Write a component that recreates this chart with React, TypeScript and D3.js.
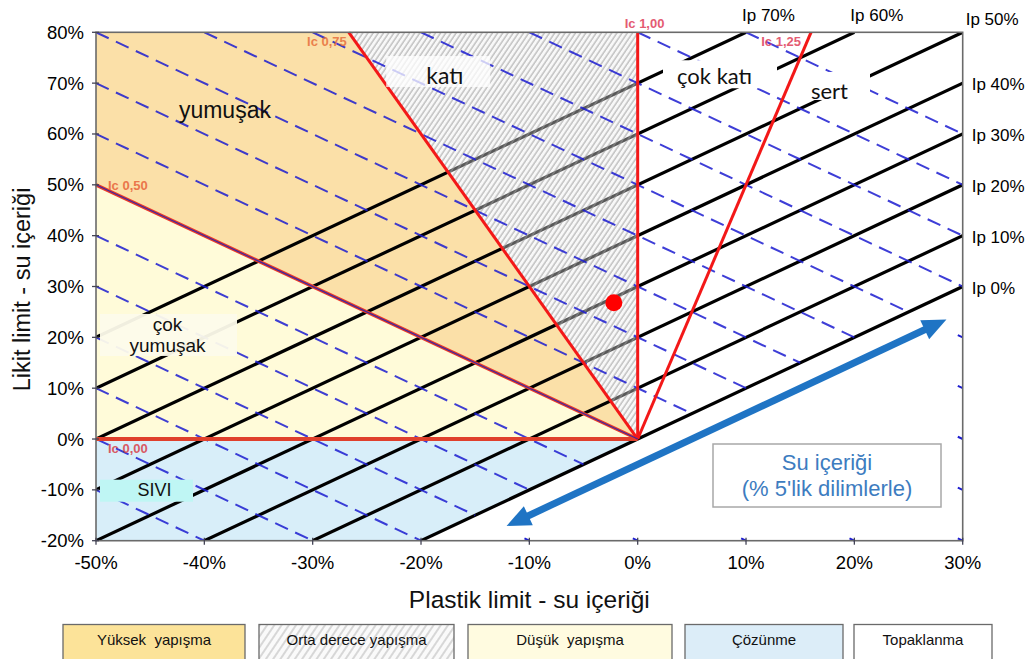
import React from "react";
import * as d3 from "d3";

// ---------- data ----------
const xTicks = [-50, -40, -30, -20, -10, 0, 10, 20, 30];
const yTicks = [-20, -10, 0, 10, 20, 30, 40, 50, 60, 70, 80];
const ipValues = [0, 10, 20, 30, 40, 50, 60, 70];
const ipLabels = ["Ip 0%", "Ip 10%", "Ip 20%", "Ip 30%", "Ip 40%", "Ip 50%", "Ip 60%", "Ip 70%"];
const waterLines = [-60, -50, -40, -30, -20, -10, 0, 10, 20, 30, 40, 50, 60, 70, 80, 90];
const icValues = [0, 0.5, 0.75, 1.0, 1.25];
const icLabels = ["Ic 0,00", "Ic 0,50", "Ic 0,75", "Ic 1,00", "Ic 1,25"];
const samplePoint: [number, number] = [-2.2, 26.8];
const arrowIp = -5;
const arrowRange = [-12.1, 28.5];
const legendLabels = ["Yüksek  yapışma", "Orta derece yapışma", "Düşük  yapışma", "Çözünme", "Topaklanma"];

// ---------- layout / style ----------
const W = 1032;
const H = 659;
const FONT = "'Liberation Sans', Arial, sans-serif";
const FONT2 = "Lato, 'Open Sans', sans-serif";
const icLabelPlace = [
  { dx: 12, dy: 14, anchor: "start", color: "#d8404a" },
  { dx: 12, dy: 5, anchor: "start", color: "#e8643a" },
  { dx: -2, dy: 14, anchor: "end", color: "#e8703c" },
  { dx: -13, dy: -4, anchor: "start", color: "#e0405a" },
  { dx: -10, dy: 14, anchor: "end", color: "#e0405a" },
];
const legendBoxes = [
  { x0: 63, x1: 245, fill: "#fce399" },
  { x0: 259, x1: 454, fill: "url(#hatchLegend)" },
  { x0: 468, x1: 672, fill: "#fffbe0" },
  { x0: 685, x1: 843, fill: "#dcedf8" },
  { x0: 854, x1: 992, fill: "#ffffff" },
];

export default function App() {
  const x = d3.scaleLinear().domain([-50, 30]).range([96, 962.7]);
  const y = d3.scaleLinear().domain([-20, 80]).range([540.7, 32.3]);
  const [x0, x1] = x.domain();
  const [y0, y1] = y.domain();
  const line = d3
    .line<[number, number]>()
    .x((d) => x(d[0]))
    .y((d) => y(d[1]));
  const poly = (pts: [number, number][]) => (line(pts) as string) + "Z";

  const icEnd = (ic: number): [number, number] => {
    const dx = ic - 1;
    const dy = ic;
    let t = Infinity;
    if (dx < 0) t = Math.min(t, x0 / dx);
    if (dx > 0) t = Math.min(t, x1 / dx);
    if (dy > 0) t = Math.min(t, y1 / dy);
    return [dx * t, dy * t];
  };
  const origin: [number, number] = [0, 0];
  const e = icValues.map(icEnd);
  const ip0 = ipValues[0];
  const ip0Bottom: [number, number] = [y0 - ip0, y0];

  const regionOrange = poly([origin, e[2], [x0, y1], e[1]]);
  const regionHatch = poly([origin, e[3], e[2]]);
  const regionYellow = poly([origin, e[1], e[0]]);
  const regionBlue = poly([origin, e[0], [x0, y0], ip0Bottom]);

  const ipSegs = ipValues.map((ip) => {
    const xa = Math.max(x0, y0 - ip);
    const xb = Math.min(x1, y1 - ip);
    return [
      [xa, xa + ip],
      [xb, xb + ip],
    ] as [number, number][];
  });

  const waterSegs = waterLines
    .map((c) => {
      const xa = Math.max(x0, c - y1);
      const xb = Math.min(x1, c - y0, (c - ip0) / 2);
      if (xb <= xa) return null;
      return [
        [xa, c - xa],
        [xb, c - xb],
      ] as [number, number][];
    })
    .filter(Boolean) as [number, number][][];

  // small fragments of the water-content lines at bottom and right edges
  const frags: [number, number][] = [];
  waterLines.forEach((c) => {
    const xb = c - y0;
    if (xb > (c - ip0) / 2 && xb <= x1 && xb >= x0) frags.push([xb, y0]);
    const yr = c - x1;
    if (yr < x1 + ip0 && yr >= y0 && xb > x1) frags.push([x1, yr]);
  });

  // arrow in pixel space
  const ax1 = x(arrowRange[0]);
  const ay1 = y(arrowRange[0] + arrowIp);
  const ax2 = x(arrowRange[1]);
  const ay2 = y(arrowRange[1] + arrowIp);
  const ang = Math.atan2(ay2 - ay1, ax2 - ax1);
  const headL = 24;
  const headW = 10.5;
  const cos = Math.cos(ang);
  const sin = Math.sin(ang);
  const head = (tx: number, ty: number, dir: number) => {
    const bx = tx - dir * headL * cos;
    const by = ty - dir * headL * sin;
    return `M${tx},${ty}L${bx - headW * sin},${by + headW * cos}L${bx + headW * sin},${by - headW * cos}Z`;
  };
  const shaft = `M${ax1 + (headL - 4) * cos},${ay1 + (headL - 4) * sin}L${ax2 - (headL - 4) * cos},${ay2 - (headL - 4) * sin}`;

  const pct = (v: number) => `${v}%`;

  return (
    <svg
      width={W}
      height={H}
      style={{ position: "absolute", left: 0, top: 0, background: "#fff" }}
      fontFamily={FONT}
    >
      <defs>
        <pattern id="hatch" patternUnits="userSpaceOnUse" width={4.3} height={10} patternTransform="rotate(34)">
          <rect width={4.3} height={10} fill="#f4f4f4" />
          <line x1={1} y1={0} x2={1} y2={10} stroke="#a4a4a4" strokeWidth={1.1} />
        </pattern>
        <pattern id="hatchOver" patternUnits="userSpaceOnUse" width={4.3} height={10} patternTransform="rotate(34)">
          <line x1={1} y1={0} x2={1} y2={10} stroke="#b4b4b4" strokeWidth={1} />
        </pattern>
        <pattern id="hatchLegend" patternUnits="userSpaceOnUse" width={6} height={10} patternTransform="rotate(34)">
          <rect width={6} height={10} fill="#fafafa" />
          <line x1={1} y1={0} x2={1} y2={10} stroke="#c4c4c4" strokeWidth={1.3} />
        </pattern>
        <clipPath id="plotClip">
          <rect x={x(x0)} y={y(y1)} width={x(x1) - x(x0)} height={y(y0) - y(y1)} />
        </clipPath>
      </defs>

      {/* regions */}
      <path d={regionOrange} fill="#fbe0a8" />
      <path d={regionYellow} fill="#fffbd9" />
      <path d={regionBlue} fill="#d8eef9" />
      <path d={regionHatch} fill="url(#hatch)" />

      {/* Ip lines */}
      <g clipPath="url(#plotClip)">
        {ipSegs.map((s, i) => (
          <path key={i} d={line(s) as string} stroke="#000" strokeWidth={3.2} fill="none" />
        ))}
      </g>
      <path d={regionHatch} fill="#ffffff" opacity={0.35} />
      <path d={regionHatch} fill="url(#hatchOver)" opacity={0.6} />

      {/* water content dashed lines */}
      <g clipPath="url(#plotClip)">
        {waterSegs.map((s, i) => (
          <path
            key={i}
            d={line(s) as string}
            stroke="#1c1cd0"
            strokeOpacity={0.85}
            strokeWidth={2}
            strokeDasharray="14 8"
            fill="none"
          />
        ))}
      </g>
      {frags.map((f, i) => (
        <path
          key={i}
          d={line([
            [f[0] - 0.45, f[1] + 0.45],
            [f[0], f[1]],
          ]) as string}
          stroke="#1c1cd0"
          strokeWidth={2}
          fill="none"
        />
      ))}

      {/* Ic lines */}
      {icValues.map((ic, i) => (
        <path
          key={i}
          d={line([origin, e[i]]) as string}
          stroke={ic === 0 ? "#e0402c" : ic === 0.5 ? "#ec3a2a" : "#f31818"}
          strokeWidth={ic === 0 ? 4 : ic === 0.5 ? 3.5 : 3}
          fill="none"
        />
      ))}
      <path d={line([origin, e[1]]) as string} stroke="#3a2aa0" strokeWidth={1.2} fill="none" />

      {/* Ic labels */}
      {icLabels.map((lab, i) => (
        <text
          key={i}
          x={x(e[i][0]) + icLabelPlace[i].dx}
          y={y(e[i][1]) + icLabelPlace[i].dy}
          textAnchor={icLabelPlace[i].anchor as any}
          fontSize={13}
          fontWeight="bold"
          fill={icLabelPlace[i].color}
          opacity={0.85}
        >
          {lab}
        </text>
      ))}

      {/* sample point */}
      <circle cx={x(samplePoint[0])} cy={y(samplePoint[1])} r={8.5} fill="#ff0000" />

      {/* arrow */}
      <path d={shaft} stroke="#1f74c4" strokeWidth={7} fill="none" />
      <path d={head(ax1, ay1, -1)} fill="#1f74c4" />
      <path d={head(ax2, ay2, 1)} fill="#1f74c4" />

      {/* frame */}
      <rect
        x={x(x0)}
        y={y(y1)}
        width={x(x1) - x(x0)}
        height={y(y0) - y(y1)}
        fill="none"
        stroke="#6a6a6a"
        strokeWidth={1.6}
      />

      {/* axis ticks */}
      {xTicks.map((t) => (
        <line key={"xt" + t} x1={x(t)} x2={x(t)} y1={y(y0) - 3} y2={y(y0) + 4} stroke="#445" strokeWidth={1.3} />
      ))}
      {yTicks.map((t) => (
        <line key={"yt" + t} x1={x(x0) - 4} x2={x(x0) + 3} y1={y(t)} y2={y(t)} stroke="#445" strokeWidth={1.3} />
      ))}

      {/* tick labels */}
      {xTicks.map((t) => (
        <text key={"xl" + t} x={x(t)} y={569} textAnchor="middle" fontSize={18.5} fill="#000">
          {pct(t)}
        </text>
      ))}
      {yTicks.map((t) => (
        <text key={"yl" + t} x={84} y={y(t) + 6.5} textAnchor="end" fontSize={18.5} fill="#000">
          {pct(t)}
        </text>
      ))}

      {/* Ip labels */}
      {ipValues.map((ip, i) => {
        const end = ipSegs[i][1];
        const px = x(end[0]);
        const py = y(end[1]);
        const atTop = end[1] >= y1 - 1e-9;
        const atRight = end[0] >= x1 - 1e-9;
        let tx = px + 9;
        let ty = py + 7;
        if (atTop && atRight) {
          tx = px + 3;
          ty = py - 7;
        } else if (atTop) {
          tx = px - 4;
          ty = 21;
        }
        return (
          <text key={"ip" + ip} x={tx} y={ty} fontSize={17} fill="#000">
            {ipLabels[i]}
          </text>
        );
      })}

      {/* region annotations */}
      <text x={x(-38.1)} y={y(64.7) + 8} textAnchor="middle" fontSize={23} fill="#111">
        yumuşak
      </text>

      <rect x={x(-18.6) - 50} y={y(71.4) - 20} width={104} height={31} fill="#fff" opacity={0.75} />
      <text x={x(-17.8)} y={y(71.4) + 8} textAnchor="middle" fontSize={23} fontFamily={FONT2} fill="#111">
        katı
      </text>

      <rect x={663} y={y(74.5)} width={114} height={28} fill="#fff" />
      <text x={x(7.1)} y={y(71.4) + 8} textAnchor="middle" fontSize={22} fontFamily={FONT2} fill="#111">
        çok katı
      </text>

      <rect x={803} y={y(72.2)} width={67} height={28} fill="#fff" />
      <text x={x(17.7)} y={y(68.5) + 8} textAnchor="middle" fontSize={22} fontFamily={FONT2} fill="#111">
        sert
      </text>

      <rect x={100} y={y(24.6)} width={137} height={42} fill="#fdfbeb" opacity={0.95} />
      <text x={x(-43.4)} y={y(21.2)} textAnchor="middle" fontSize={19} fill="#111">
        çok
      </text>
      <text x={x(-43.4)} y={y(17.1)} textAnchor="middle" fontSize={19} fill="#111">
        yumuşak
      </text>

      <rect x={100} y={y(-8)} width={93} height={22} fill="#bff6f4" />
      <text x={x(-44.6)} y={y(-11.2)} textAnchor="middle" fontSize={18} fill="#111">
        SIVI
      </text>

      {/* water content note */}
      <rect x={713} y={444} width={228} height={63} fill="#fff" stroke="#a8a8a8" strokeWidth={1.5} />
      <text x={827} y={470} textAnchor="middle" fontSize={22} fill="#3d7cc0">
        Su içeriği
      </text>
      <text x={827} y={496} textAnchor="middle" fontSize={22} fill="#3d7cc0">
        (% 5'lik dilimlerle)
      </text>

      {/* axis titles */}
      <text x={(x(x0) + x(x1)) / 2} y={608} textAnchor="middle" fontSize={24.5} fill="#111">
        Plastik limit - su içeriği
      </text>
      <text
        transform={`translate(30, ${(y(y0) + y(y1)) / 2 + 3}) rotate(-90)`}
        textAnchor="middle"
        fontSize={23.5}
        fill="#111"
      >
        Likit limit - su içeriği
      </text>

      {/* legend */}
      {legendBoxes.map((b, i) => (
        <g key={"lg" + i}>
          <rect x={b.x0} y={624.5} width={b.x1 - b.x0} height={40} fill={b.fill} stroke="#6a6a6a" strokeWidth={1.3} />
          <text
            x={(b.x0 + b.x1) / 2}
            y={645}
            textAnchor="middle"
            fontSize={15}
            fill="#111"
            style={{ whiteSpace: "pre" }}
          >
            {legendLabels[i]}
          </text>
        </g>
      ))}
    </svg>
  );
}
